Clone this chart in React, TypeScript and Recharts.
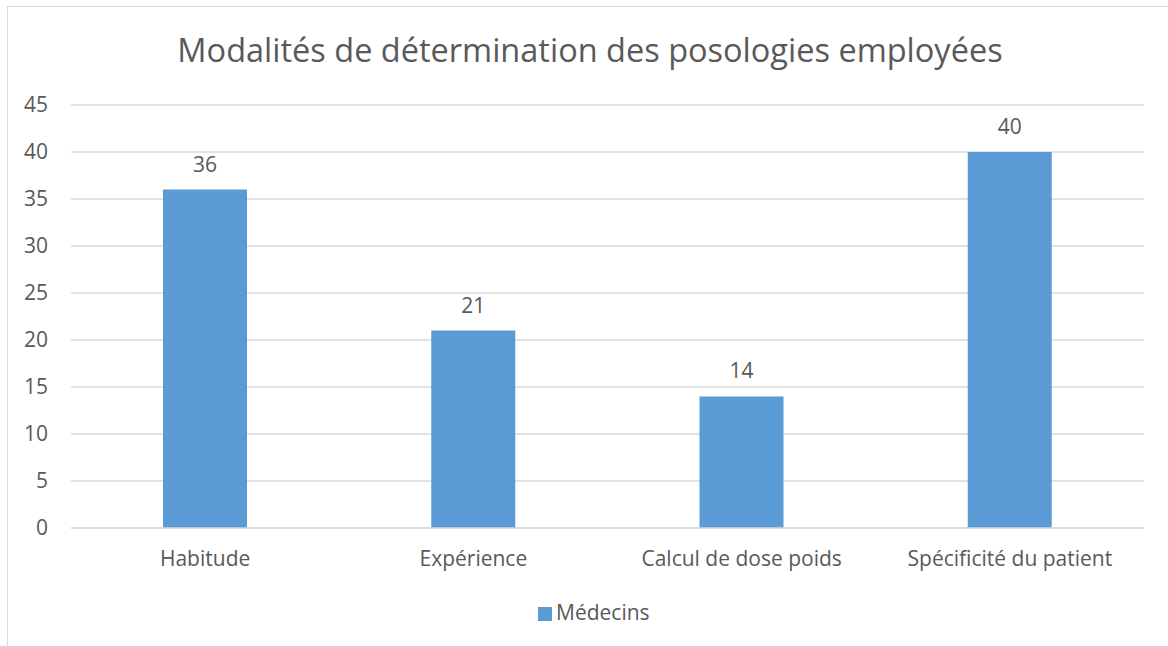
import { Bar, BarChart, CartesianGrid, LabelList, Legend, XAxis, YAxis } from 'recharts';

const CATEGORIES = ['Habitude', 'Expérience', 'Calcul de dose poids', 'Spécificité du patient'];
const MEDECINS = [36, 21, 14, 40];
const Y_TICKS = [0, 5, 10, 15, 20, 25, 30, 35, 40, 45];

const TEXT = '#595959';
const FONT = '"Open Sans", sans-serif';
const FS = 21;

const rows = CATEGORIES.map((name, i) => ({ name, medecins: MEDECINS[i] }));

export default function App() {
  return (
    <div style={{ position: 'absolute', left: 0, top: 0, width: 1168, height: 646, background: '#fff', overflow: 'hidden', fontFamily: FONT }}>
      <div style={{ position: 'absolute', left: 7, top: 6, width: 1200, height: 700, border: '1px solid #d9d9d9' }} />
      <div style={{ position: 'absolute', left: 0, top: 27, width: 1180, textAlign: 'center', color: TEXT, fontSize: 32.5 }}>
        Modalités de détermination des posologies employées
      </div>
      <div style={{ position: 'absolute', left: 0, top: 0 }}>
        <BarChart width={1168} height={646} data={rows} margin={{ top: 105, right: 24, left: 0, bottom: 0 }} barSize={84}>
          <CartesianGrid vertical={false} stroke="#d9d9d9" strokeWidth={1.5} />
          <XAxis
            dataKey="name"
            height={90}
            axisLine={{ stroke: '#d9d9d9', strokeWidth: 1.5 }}
            tickLine={false}
            tickMargin={17}
            tick={{ fill: TEXT, fontSize: FS, fontFamily: FONT }}
          />
          <YAxis
            width={71}
            domain={[0, 45]}
            ticks={Y_TICKS}
            axisLine={false}
            tickLine={false}
            tickMargin={17}
            tick={{ fill: TEXT, fontSize: FS, fontFamily: FONT }}
          />
          <Legend
            verticalAlign="bottom"
            iconType="square"
            iconSize={14}
            wrapperStyle={{ top: 598, left: 538, width: 'auto', fontSize: FS, fontFamily: FONT }}
            formatter={() => <span style={{ color: TEXT }}>Médecins</span>}
          />
          <Bar dataKey="medecins" name="Médecins" fill="#5B9BD5" isAnimationActive={false}>
            <LabelList dataKey="medecins" position="top" offset={18} fill={TEXT} fontSize={FS} fontFamily={FONT} />
          </Bar>
        </BarChart>
      </div>
    </div>
  );
}
